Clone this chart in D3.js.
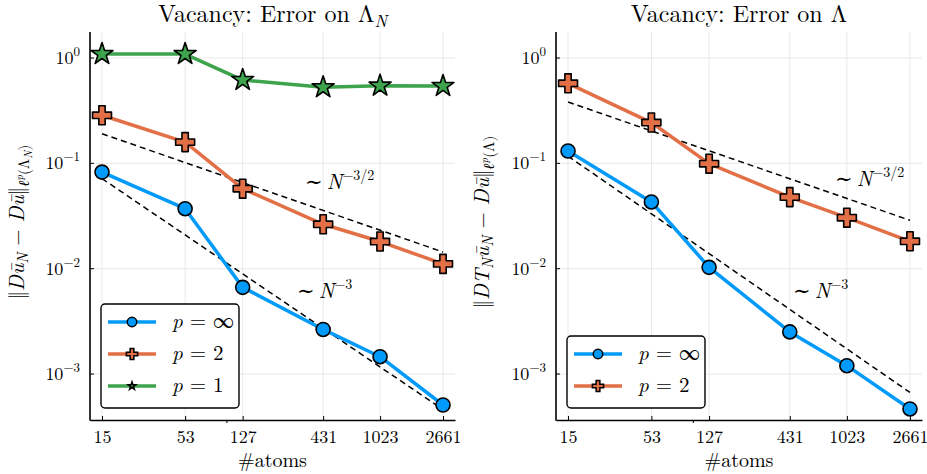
<!DOCTYPE html>
<html>
<head>
<meta charset="utf-8">
<script src="https://cdn.jsdelivr.net/npm/d3@7"></script>
<style>
  body { margin: 0; background: #fff; }
</style>
</head>
<body>
<svg id="chart" width="927" height="474"></svg>
<script>
// ---- data ----
var atoms = [15, 53, 127, 431, 1023, 2661];
var atomTicks = [15, 53, 127, 431, 1023, 2661];
var yTickExp = [0, -1, -2, -3];

// left panel: error on Lambda_N
var lamNInf = [0.0826, 0.0371, 0.00665, 0.00265, 0.00146, 0.000508];
var lamN2 = [0.286, 0.159, 0.0575, 0.0264, 0.0181, 0.0111];
var lamN1 = [1.09, 1.09, 0.618, 0.527, 0.546, 0.542];

// right panel: error on Lambda
var lamInf = [0.131, 0.043, 0.0103, 0.00251, 0.0012, 0.000466];
var lam2 = [0.575, 0.244, 0.0993, 0.0478, 0.0305, 0.0182];

// dashed guide lines (endpoints)
var refAtoms = [15, 2661];
var refLamN32 = [0.191, 0.0144];
var refLamN3 = [0.0716, 0.00046];
var refLam32 = [0.382, 0.0288];
var refLam3 = [0.117, 0.000668];

var colors = { inf: '#009afa', two: '#e26f46', one: '#3da44d' };
var FONT = "'Latin Modern Roman', 'Liberation Serif', 'DejaVu Serif'";

var svg = d3.select('#chart');
var top0 = 32, bottom0 = 420;

// builds a math-ish label from segments: [text, italic, yoffset, size]
function mathText(sel, segs) {
	var prev = 0;
	segs.forEach(function(s) {
		sel.append('tspan')
			.attr('font-family', FONT)
			.attr('dy', s[2] - prev)
			.attr('font-style', s[1] ? 'italic' : 'normal')
			.attr('font-size', s[3])
			.text(s[0]);
		prev = s[2];
	});
}

function markerPath(kind, big) {
	if (kind == 'circle') return d3.symbol(d3.symbolCircle, big ? 154 : 70)();
	if (kind == 'cross') return d3.symbol(d3.symbolCross, big ? 200 : 70)();
	return d3.symbol(d3.symbolStar, big ? 150 : 18)();
}

function drawPanel(p) {
	var x = d3.scaleLog().domain([12.5, 3192]).range([p.left, p.right]);
	var y = d3.scaleLog().domain([0.000366, 1.766]).range([bottom0, top0]);
	var g = svg.append('g');

	// grid
	g.selectAll('line.vgrid').data(atomTicks).enter().append('line')
		.attr('x1', d => x(d)).attr('x2', d => x(d))
		.attr('y1', top0).attr('y2', bottom0)
		.attr('stroke', '#e8e8e8').attr('stroke-width', 1);
	g.selectAll('line.hgrid').data(yTickExp).enter().append('line')
		.attr('x1', p.left).attr('x2', p.right)
		.attr('y1', d => y(Math.pow(10, d))).attr('y2', d => y(Math.pow(10, d)))
		.attr('stroke', '#e8e8e8').attr('stroke-width', 1);

	// axes
	var xAxis = d3.axisBottom(x).tickValues(atomTicks).tickFormat(d3.format('d'))
		.tickSizeInner(-4).tickSizeOuter(0).tickPadding(9);
	var gx = g.append('g').attr('transform', 'translate(0,' + bottom0 + ')').call(xAxis);
	gx.select('.domain').attr('stroke-width', 1.6);
	gx.selectAll('text').attr('font-family', FONT).attr('font-size', 18).attr('dy', '0.8em');
	// stray tick at 100
	gx.append('line').attr('x1', x(100)).attr('x2', x(100)).attr('y1', 0).attr('y2', 3)
		.attr('stroke', '#000');

	g.append('line').attr('x1', p.left).attr('x2', p.left)
		.attr('y1', top0).attr('y2', bottom0 + 0.8)
		.attr('stroke', '#000').attr('stroke-width', 1.6);
	yTickExp.forEach(function(e) {
		var yy = y(Math.pow(10, e));
		g.append('line').attr('x1', p.left).attr('x2', p.left + 4)
			.attr('y1', yy).attr('y2', yy).attr('stroke', '#000');
		var t = g.append('text').attr('x', p.left - 10).attr('y', yy + 6)
			.attr('text-anchor', 'end').attr('font-family', FONT).attr('font-size', 18);
		mathText(t, [['10', false, 0, 18], [e == 0 ? '0' : '\u2212' + (-e), false, -8, 13]]);
	});

	// guide lines
	var line = d3.line().x(d => x(d[0])).y(d => y(d[1]));
	p.refs.forEach(function(r) {
		g.append('path').attr('d', line(d3.zip(refAtoms, r)))
			.attr('fill', 'none').attr('stroke', '#000').attr('stroke-width', 1.5)
			.attr('stroke-dasharray', '6,4');
	});

	// series
	p.series.forEach(function(s) {
		var pts = d3.zip(atoms, s.values);
		g.append('path').attr('d', line(pts))
			.attr('fill', 'none').attr('stroke', s.color).attr('stroke-width', 3.5)
			.attr('stroke-linejoin', 'round');
		g.selectAll(null).data(pts).enter().append('path')
			.attr('d', markerPath(s.marker, true))
			.attr('transform', d => 'translate(' + x(d[0]) + ',' + y(d[1]) + ')')
			.attr('fill', s.color).attr('stroke', '#000').attr('stroke-width', 1.6)
			.attr('stroke-linejoin', 'round');
	});

	// guide labels
	p.refLabels.forEach(function(l) {
		var t = g.append('text').attr('x', l.x).attr('y', l.y).attr('font-family', FONT);
		mathText(t, [['\u223c\u2009', false, 0, 21], ['N', true, 0, 21], [l.exp, false, -9, 14]]);
	});

	// title
	var tt = g.append('text').attr('x', (p.left + p.right) / 2).attr('y', 22)
		.attr('text-anchor', 'middle').attr('font-family', FONT);
	mathText(tt, p.title);

	// x label
	g.append('text').attr('x', (p.left + p.right) / 2).attr('y', 467)
		.attr('text-anchor', 'middle').attr('font-family', FONT).attr('font-size', 20).text('#atoms');

	// y label
	var yl = g.append('text').attr('transform', 'translate(' + p.ylabX + ',222) rotate(-90)')
		.attr('text-anchor', 'middle').attr('font-family', FONT);
	mathText(yl, p.ylabel);

	// legend
	var lg = g.append('g');
	var lh = p.series.length * 32 + 8;
	lg.append('rect').attr('x', p.legX).attr('y', 408 - lh)
		.attr('width', 138).attr('height', lh).attr('rx', 4)
		.attr('fill', '#fff').attr('stroke', '#000').attr('stroke-width', 1.4);
	p.series.forEach(function(s, i) {
		var ly = 408 - lh + 18 + i * 32;
		lg.append('line').attr('x1', p.legX + 7).attr('x2', p.legX + 55)
			.attr('y1', ly).attr('y2', ly).attr('stroke', s.color).attr('stroke-width', 3.5);
		lg.append('path').attr('d', markerPath(s.marker, false))
			.attr('transform', 'translate(' + (p.legX + 31) + ',' + ly + ')')
			.attr('fill', s.color).attr('stroke', '#000').attr('stroke-width', 1.5);
		var t = lg.append('text').attr('x', p.legX + 71).attr('y', ly + 6).attr('font-family', FONT);
		mathText(t, [['p', true, 0, 21], [' = ' + s.label, false, 0, 21]]);
	});
}

drawPanel({
	left: 90, right: 455, ylabX: 24, legX: 101,
	title: [['Vacancy: Error on \u039b', false, 0, 24], ['N', true, 5, 17]],
	ylabel: [['\u2016', false, 0, 21], ['D\u016b', true, 0, 21], ['N', true, 4, 15],
		[' \u2212 ', false, 0, 21], ['D\u016b', true, 0, 21], ['\u2016', false, 0, 21],
		['\u2113', true, 5, 15], ['p', true, -1, 11], ['(\u039b', false, 5, 15],
		['N', true, 8, 11], [')', false, 5, 15]],
	refs: [refLamN32, refLamN3],
	refLabels: [{ x: 305, y: 189, exp: '\u22123/2' }, { x: 297, y: 298, exp: '\u22123' }],
	series: [
		{ values: lamNInf, color: colors.inf, marker: 'circle', label: '\u221e' },
		{ values: lamN2, color: colors.two, marker: 'cross', label: '2' },
		{ values: lamN1, color: colors.one, marker: 'star', label: '1' }
	]
});

drawPanel({
	left: 556, right: 922, ylabX: 489, legX: 567,
	title: [['Vacancy: Error on \u039b', false, 0, 24]],
	ylabel: [['\u2016', false, 0, 21], ['DT', true, 0, 21], ['N', true, 4, 15],
		['\u016b', true, 0, 21], ['N', true, 4, 15],
		[' \u2212 ', false, 0, 21], ['D\u016b', true, 0, 21], ['\u2016', false, 0, 21],
		['\u2113', true, 5, 15], ['p', true, -1, 11], ['(\u039b)', false, 5, 15]],
	refs: [refLam32, refLam3],
	refLabels: [{ x: 835, y: 186, exp: '\u22123/2' }, { x: 793, y: 298, exp: '\u22123' }],
	series: [
		{ values: lamInf, color: colors.inf, marker: 'circle', label: '\u221e' },
		{ values: lam2, color: colors.two, marker: 'cross', label: '2' }
	]
});
</script>
</body>
</html>
